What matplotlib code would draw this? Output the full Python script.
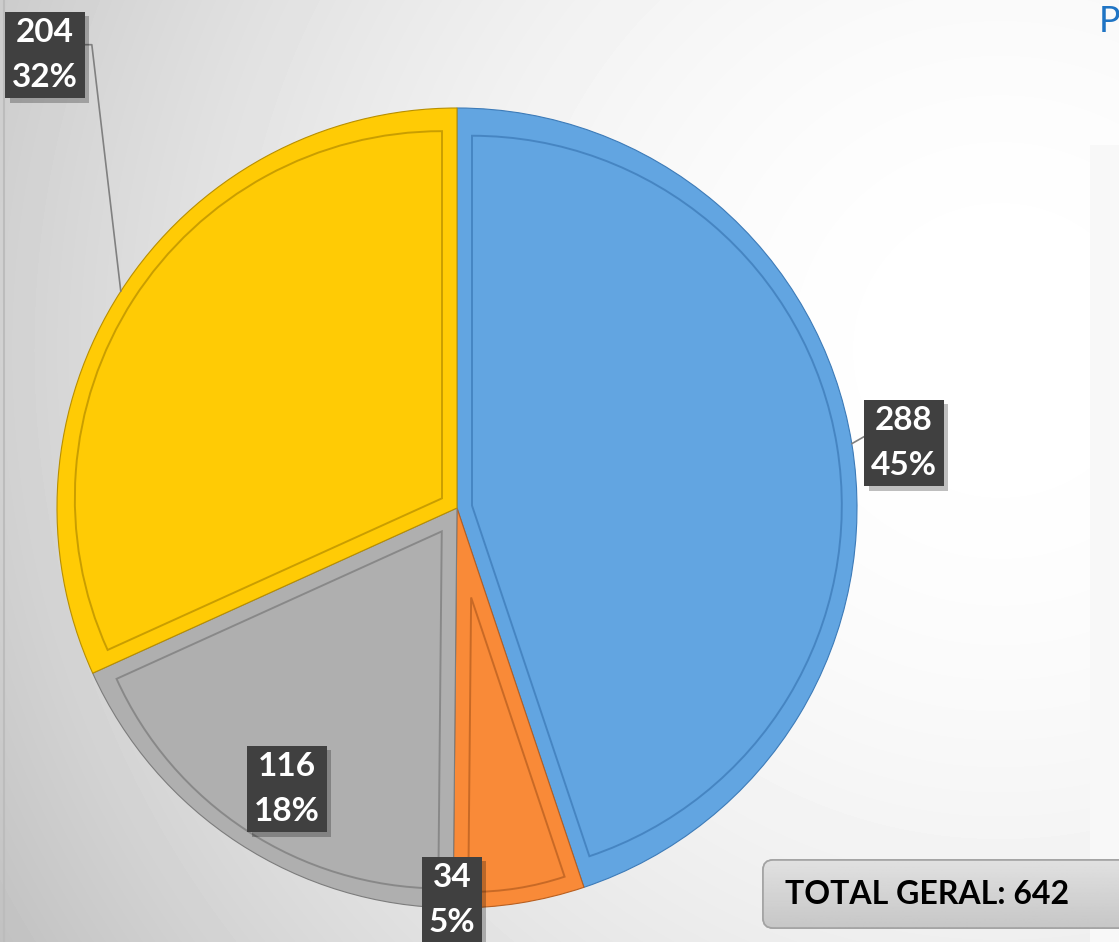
import numpy as np
import matplotlib.pyplot as plt
import matplotlib.patheffects as pe
from matplotlib.patches import Wedge, FancyBboxPatch, Rectangle

plt.rcParams['font.family'] = ['Lato', 'DejaVu Sans']

# data (clockwise from 12 o'clock)
values = [288, 34, 116, 204]
colors = ['#62A5E1', '#F98A38', '#AFAFAF', '#FFCB05']
line_colors = ['#3d7bb8', '#b85f20', '#7c7c7c', '#b88f00']
# label box centres, pixel coords from top-left
label_pos = [(904, 443), (452, 900), (287, 789), (45, 55)]
total = sum(values)
total_text = 'TOTAL GERAL: {}'.format(total)

W, H = 1119, 942
cx, cy, R = 457, H - 508, 400

fig = plt.figure(figsize=(W / 100, H / 100), dpi=100)
ax = fig.add_axes([0, 0, 1, 1])

# soft grey background, lighter towards the right
yy, xx = np.mgrid[0:H, 0:W]
d = np.hypot(xx - 1000, yy - 350) / 1000
bg = np.clip(1 - 0.18 * d ** 2, 0, 1)
ax.imshow(bg, cmap='gray', vmin=0, vmax=1, extent=(0, W, 0, H),
          origin='upper', zorder=0, interpolation='bilinear')
ax.add_patch(Rectangle((1090, 0), 60, H - 145, fc='#f8f8f8', ec='none', zorder=0.5))
ax.axvline(3.5, color='#bcbcbc', lw=1.5, zorder=0.6)

wedges, _ = ax.pie(values, colors=colors, startangle=90, counterclock=False,
                   center=(cx, cy), radius=R,
                   wedgeprops=dict(linewidth=1.2, edgecolor='white'))
for w, lc in zip(wedges, line_colors):
    w.set_zorder(2)
    w.set_edgecolor(lc)
    w.set_linewidth(0.8)

# bevel: inset outline inside each slice
inset = 15
for w, lc in zip(wedges, line_colors):
    t1, t2 = w.theta1, w.theta2
    half = np.radians((t2 - t1) / 2)
    mid = np.radians((t1 + t2) / 2)
    s = inset / np.sin(half)
    c2 = (cx + s * np.cos(mid), cy + s * np.sin(mid))
    iw = Wedge(c2, R - inset - s, t1, t2, fill=False, ec=lc, lw=1.4, alpha=0.75, zorder=3)
    ax.add_patch(iw)

# data labels
lab_kw = dict(ha='center', va='center', fontsize=24, fontweight='bold', color='white',
              linespacing=1.65, zorder=6)
for i, (w, v) in enumerate(zip(wedges, values)):
    pct = round(100 * v / total)
    txt = '{}\n{}%'.format(v, pct)
    lx, ly = label_pos[i]
    mid = np.radians((w.theta1 + w.theta2) / 2)
    ax_pt = (cx + R * np.cos(mid), cy + R * np.sin(mid))
    bbox = dict(boxstyle='square,pad=0.2', fc='#404040', ec='none', lw=0)
    if i == 3:
        t = ax.annotate(txt, xy=ax_pt, xytext=(lx, H - ly), bbox=bbox,
                        arrowprops=dict(arrowstyle='-', color='#808080', lw=1.2,
                                        relpos=(1.0, 0.64), shrinkA=0, shrinkB=0,
                                        connectionstyle='angle,angleA=0,angleB=96.7,rad=0'),
                        **lab_kw)
    elif i == 0:
        t = ax.annotate(txt, xy=ax_pt, xytext=(lx, H - ly), bbox=bbox,
                        arrowprops=dict(arrowstyle='-', color='#808080', lw=1.2,
                                        relpos=(0.0, 0.64), shrinkA=0, shrinkB=0),
                        **lab_kw)
    else:
        t = ax.text(lx, H - ly, txt, bbox=bbox, **lab_kw)
    t.get_bbox_patch().set_path_effects(
        [pe.SimplePatchShadow(offset=(3, -3), shadow_rgbFace='black', alpha=0.25), pe.Normal()])

# total box
box = FancyBboxPatch((763, H - 928), 420, 68, boxstyle='round,pad=0,rounding_size=10',
                     fc='#d2d2d2', ec='#a3a3a3', lw=1.2, zorder=4)
ax.add_patch(box)
grad = np.linspace(0.88, 0.78, 50).reshape(-1, 1)
gi = ax.imshow(grad, cmap='gray', vmin=0, vmax=1, extent=(763, 1183, H - 928, H - 860),
               origin='upper', zorder=4.1, aspect='auto')
gi.set_clip_path(box)
ax.add_patch(FancyBboxPatch((763, H - 928), 420, 68, boxstyle='round,pad=0,rounding_size=10',
                            fc='none', ec='#a3a3a3', lw=1.2, zorder=4.2))
ax.text(785, H - 895, total_text, ha='left', va='center', fontsize=23,
        fontweight='bold', color='black', zorder=5)

ax.text(1099, H - 22, 'P', ha='left', va='center', fontsize=26, color='#1F74C4', zorder=5)

ax.set_xlim(0, W)
ax.set_ylim(0, H)
ax.set_aspect('auto')
ax.axis('off')

fig.savefig('out.png', dpi=100)
